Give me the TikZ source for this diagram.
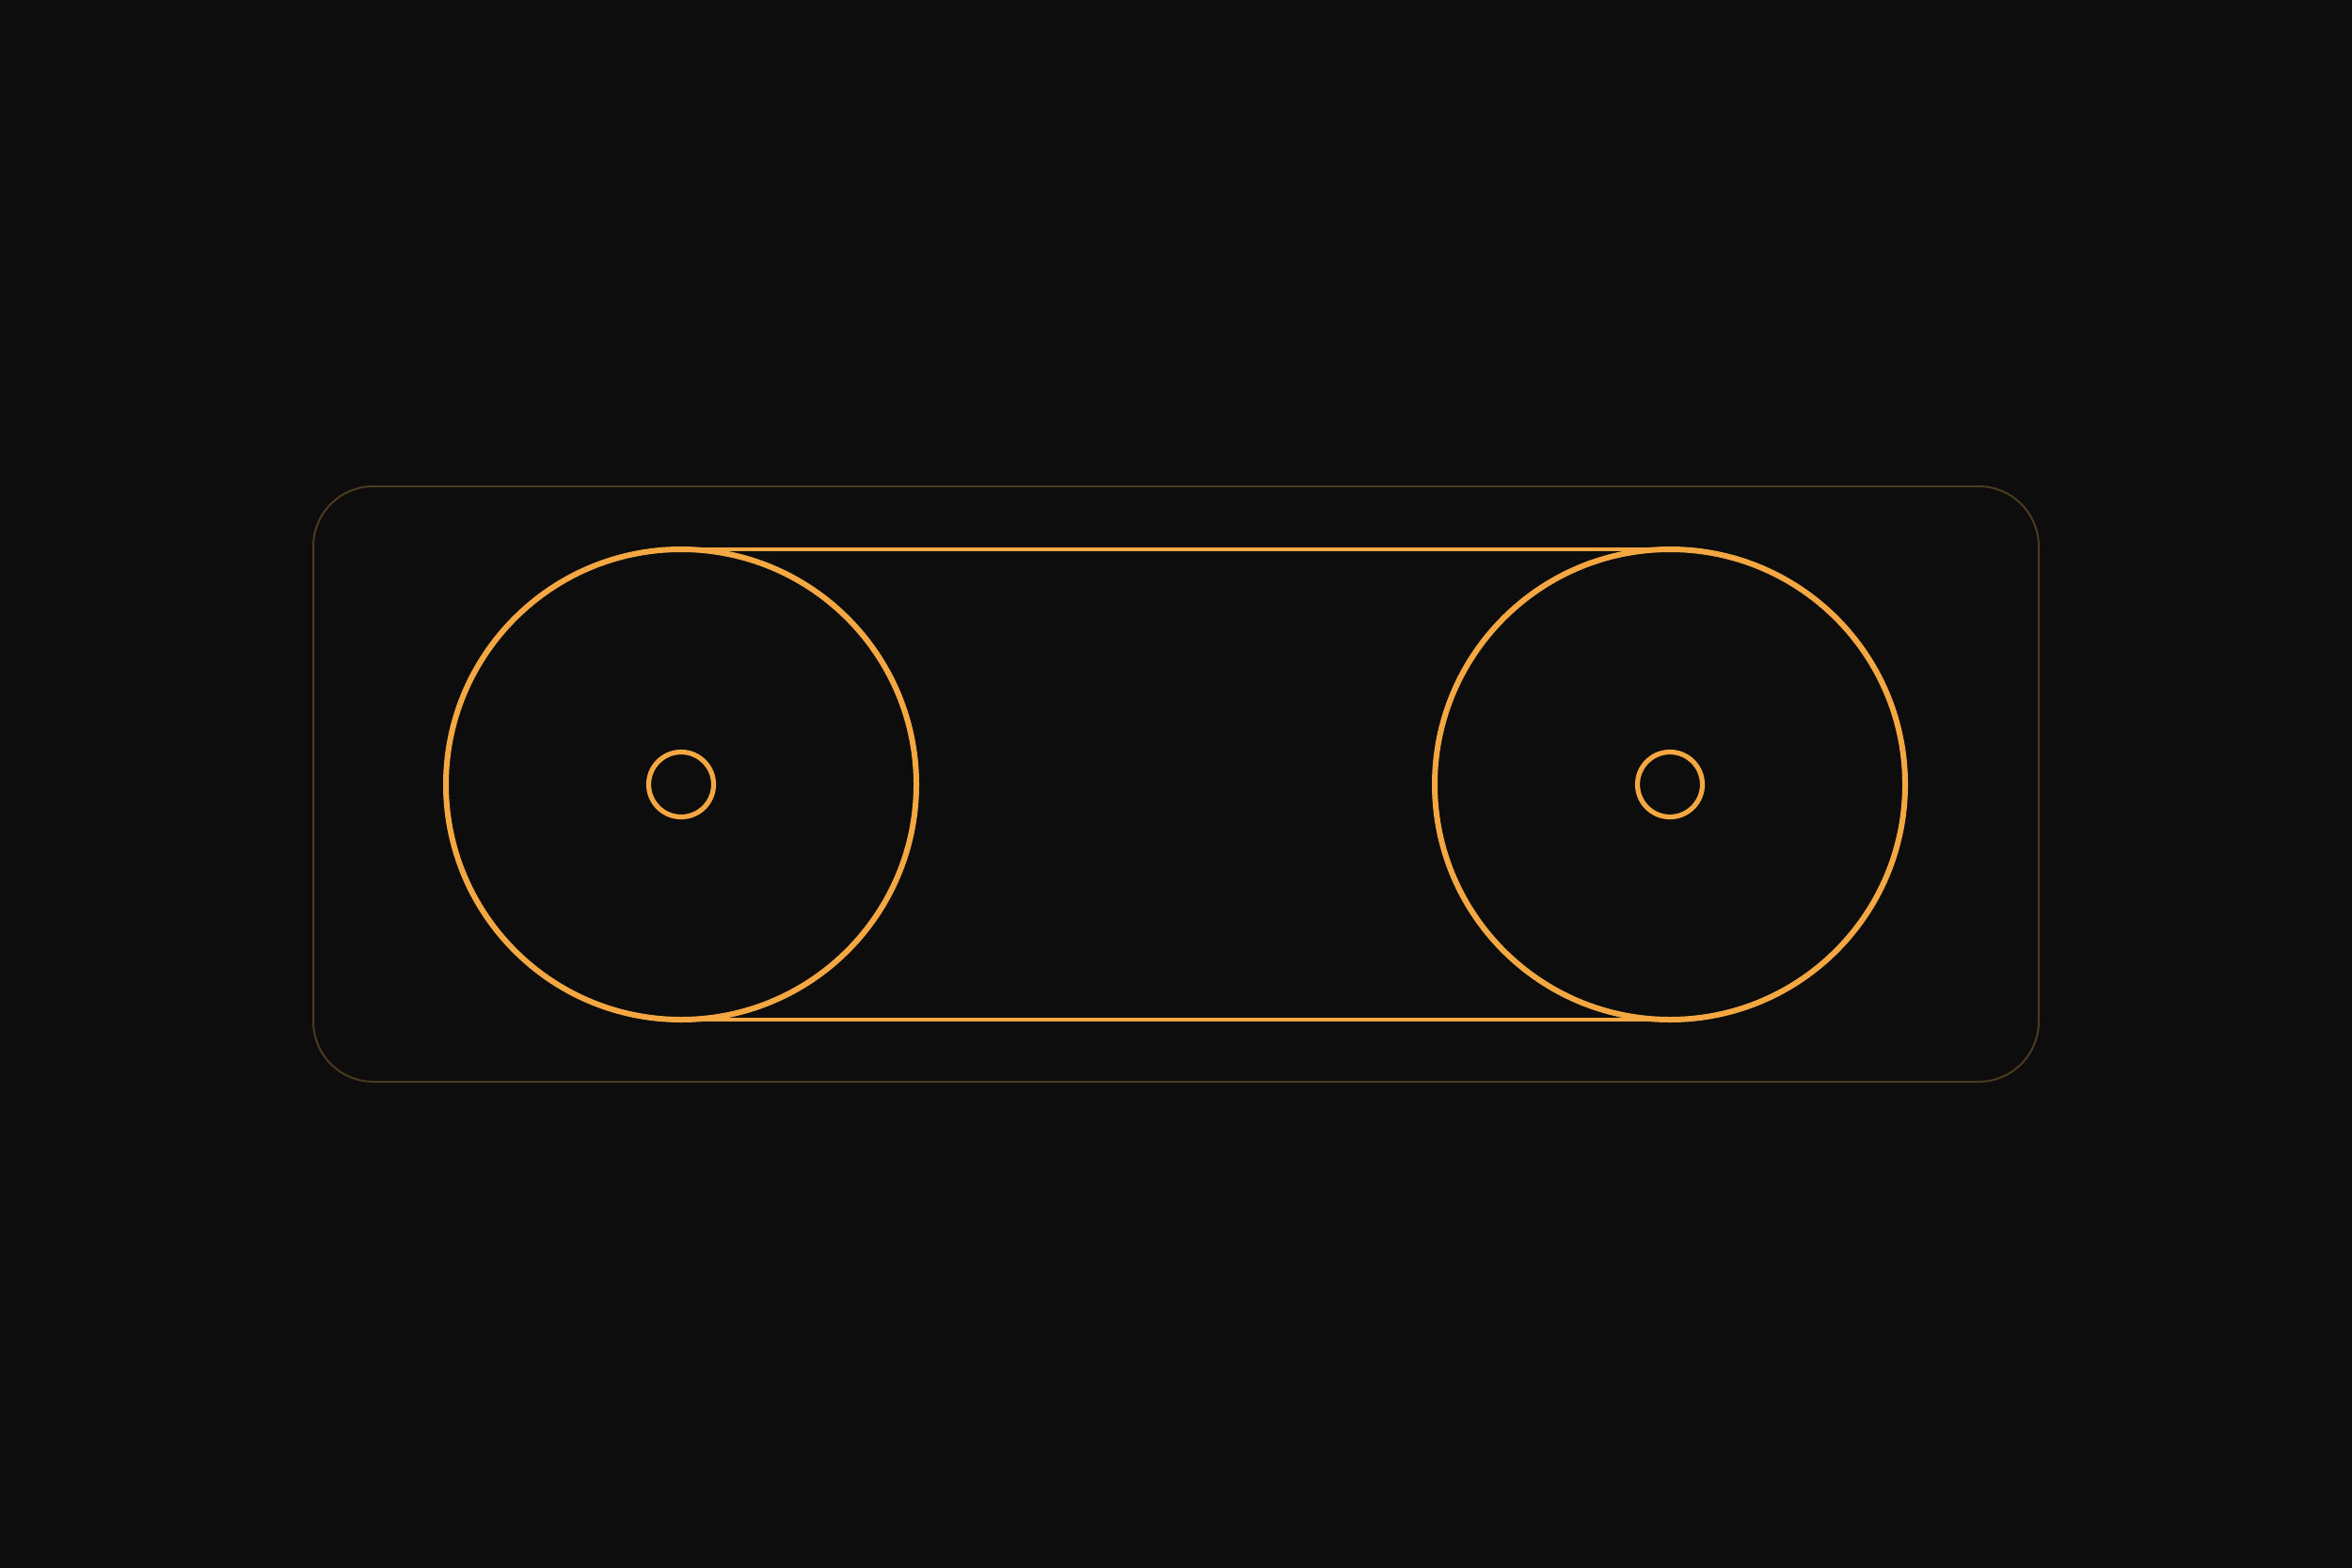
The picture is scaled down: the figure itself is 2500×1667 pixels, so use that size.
\documentclass[tikz,border=0pt]{standalone}
\definecolor{bg}{HTML}{0D0D0D}
\definecolor{belt}{HTML}{F5A742}
\definecolor{frame}{HTML}{4A3B22}
\begin{document}
\begin{tikzpicture}[x=1pt,y=-1pt,
  pulley/.style={circle,draw=belt,line width=6pt,inner sep=0pt,outer sep=0pt,minimum size=500pt},
  hub/.style={circle,draw=belt,line width=5.2pt,inner sep=0pt,outer sep=0pt,minimum size=69pt},
  beltline/.style={draw=belt,line width=4.8pt},
  frameline/.style={draw=frame,line width=2pt,rounded corners=64pt}]
\fill[bg] (0,0) rectangle (2500,1667);
\useasboundingbox (0,0) rectangle (2500,1667);
\draw[frameline] (333,517) rectangle (2167,1150);
\coordinate (L) at (724,834);
\coordinate (R) at (1775,834);
\node[pulley] (pl) at (L) {};
\node[pulley] (pr) at (R) {};
\node[hub] (hl) at (L) {};
\node[hub] (hr) at (R) {};
\draw[beltline] (pl.north) -- (pr.north);
\draw[beltline] (pl.south) -- (pr.south);
\end{tikzpicture}
\end{document}
